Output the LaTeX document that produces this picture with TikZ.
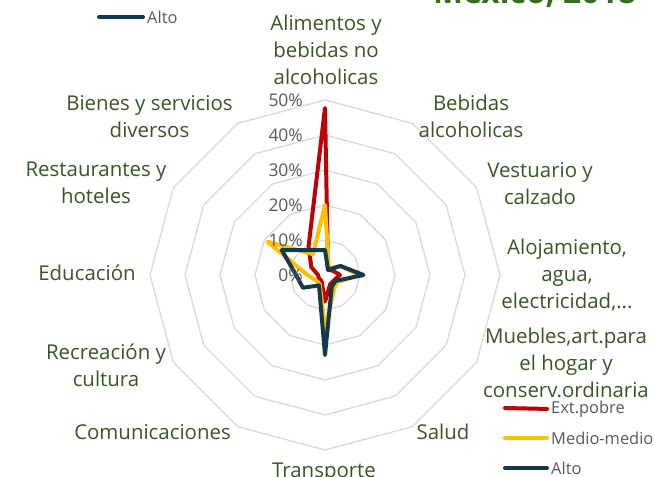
\documentclass[tikz,border=0pt]{standalone}
\usepackage{fontspec}
\setmainfont{Open Sans}
\usepackage{xcolor}
\usetikzlibrary{positioning}
\definecolor{pobrered}{HTML}{C00000}
\definecolor{medioyel}{HTML}{FFC000}
\definecolor{altoblue}{HTML}{113A4F}
\definecolor{catgreen}{HTML}{385723}
\definecolor{titlegreen}{HTML}{376B1F}
\definecolor{ringgray}{HTML}{D9D9D9}
\definecolor{tickgray}{HTML}{595959}

\begin{document}
\begin{tikzpicture}[x=1bp, y=1bp,
    ring/.style={draw=ringgray, line width=1.3bp},
    cat/.style={text=catgreen, align=center, font=\fontsize{20.5}{27}\selectfont},
    tick/.style={text=tickgray, anchor=east, inner sep=0pt, font=\fontsize{17.5}{20}\selectfont},
    serie/.style={line width=4bp, line join=round, line cap=round},
    legtext/.style={text=tickgray, anchor=west, inner sep=2bp, font=\fontsize{16.5}{20}\selectfont},
    legline/.style={line width=4bp, line cap=round, shorten >=2bp}]
    \useasboundingbox (0,0) rectangle (654,477);
    \clip (0,0) rectangle (654,477);
    % title, cut at the top edge
    \node[anchor=base west, text=titlegreen, inner sep=0pt,
        font=\fontsize{32}{36}\selectfont\bfseries] (titulo) at (433,473) {México, 2018};
    % radar grid and series
    \begin{scope}[shift={(325,202)}]
        \foreach \r in {35,70,...,175}
            \draw[ring] (0:\r) \foreach \a in {30,60,...,330} { -- (\a:\r) } -- cycle;
        \draw[serie, pobrered]
        (90:167) -- (60:6) -- (30:8.8) -- (0:15) -- (-30:10.5) -- (-60:10.5)
        -- (-90:26.6) -- (-120:7) -- (-150:7) -- (180:7) -- (150:15.8) -- (120:32.9) -- cycle;
        \draw[serie, medioyel]
        (90:70) -- (60:7.7) -- (30:17.5) -- (0:35) -- (-30:14) -- (-60:17.5)
        -- (-90:55) -- (-120:10.5) -- (-150:10.5) -- (180:17.5) -- (150:66.5) -- (120:24) -- cycle;
        \draw[serie, altoblue]
        (90:25) -- (60:6) -- (30:18) -- (0:38.5) -- (-30:12) -- (-60:13.5)
        -- (-90:80) -- (-120:12) -- (-150:25.5) -- (180:29) -- (150:50) -- (120:28.7) -- cycle;
    \end{scope}
    % axis values
    \node[tick] (t0) at (303,202) {0\%};
    \node[tick] (t10) at (303,237) {10\%};
    \node[tick] (t20) at (303,272) {20\%};
    \node[tick] (t30) at (303,307) {30\%};
    \node[tick] (t40) at (303,342) {40\%};
    \node[tick] (t50) at (303,377) {50\%};
    % categories
    \node[cat] (alimentos) at (326,427) {Alimentos y\\bebidas no\\alcoholicas};
    \node[cat] (bebidas) at (471,361) {Bebidas\\alcoholicas};
    \node[cat] (vestuario) at (540,293.5) {Vestuario y\\calzado};
    \node[cat] (alojamiento) at (567,202) {Alojamiento,\\agua,\\electricidad,...};
    \node[cat] (muebles) at (566,114) {Muebles,art.para\\el hogar y\\conserv.ordinaria};
    \node[cat] (salud) at (443,45) {Salud};
    \node[cat] (transporte) at (324,4) {Transporte};
    \node[cat] (comunicaciones) at (152.5,45) {Comunicaciones};
    \node[cat] (recreacion) at (106,112) {Recreación y\\cultura};
    \node[cat] (educacion) at (87,204) {Educación};
    \node[cat] (restaurantes) at (96,294.5) {Restaurantes y\\hoteles};
    \node[cat] (bienes) at (149.5,360.5) {Bienes y servicios\\diversos};
    % legends
    \coordinate (k0) at (99,460);
    \node[legtext] (lalto0) at (145,460) {Alto};
    \draw[legline, altoblue] (k0) -- (lalto0.west);
    \coordinate (k1) at (505,69);
    \node[legtext] (lpobre) at (549,68) {Ext.pobre};
    \draw[legline, pobrered] (k1) -- (lpobre.west);
    \coordinate (k2) at (505,39);
    \node[legtext] (lmedio) at (549,39) {Medio-medio};
    \draw[legline, medioyel] (k2) -- (lmedio.west);
    \coordinate (k3) at (505,9);
    \node[legtext] (lalto) at (549,9) {Alto};
    \draw[legline, altoblue] (k3) -- (lalto.west);
\end{tikzpicture}
\end{document}
